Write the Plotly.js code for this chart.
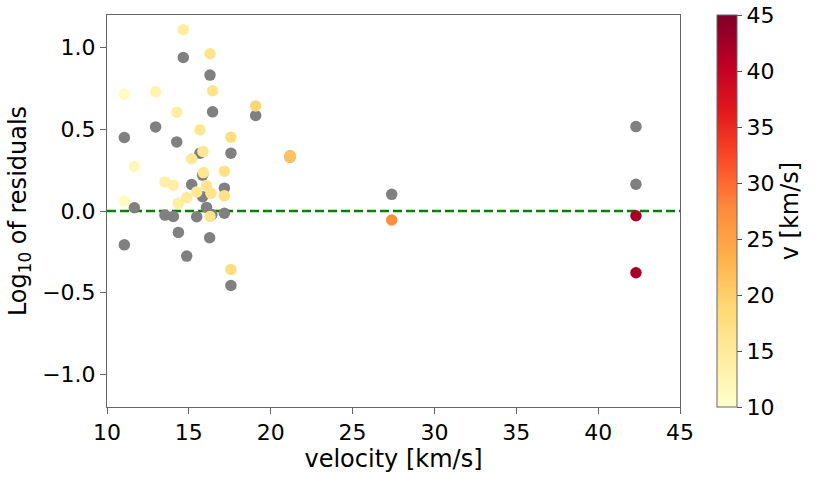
<!DOCTYPE html>
<html>
<head>
<meta charset="utf-8">
<script src="https://cdn.plot.ly/plotly-3.0.1.min.js"></script>
<style>html,body{margin:0;padding:0;background:#fff;}#chart{width:831px;height:477px;}</style>
</head>
<body>
<div id="chart"></div>
<script>
// Grey points (reference model residuals)
var greyVelocity = [11.06, 11.06, 11.67, 12.97, 13.54, 14.05, 14.26, 14.36, 14.66, 14.87,
                    15.17, 15.48, 15.68, 15.84, 15.84, 16.08, 16.27, 16.29, 16.40, 16.45,
                    17.17, 17.17, 17.57, 17.57, 19.08, 21.18, 27.39, 42.31, 42.31];
var greyResidual = [0.450, -0.207, 0.020, 0.515, -0.025, -0.033, 0.423, -0.131, 0.940, -0.276,
                    0.162, -0.035, 0.354, 0.220, 0.088, 0.022, -0.164, 0.832, -0.022, 0.607,
                    0.140, -0.014, 0.354, -0.456, 0.585, 0.330, 0.102, 0.517, 0.164];

// Coloured points (colour = velocity)
var colVelocity = [11.06, 11.06, 11.67, 12.97, 13.54, 14.05, 14.26, 14.36, 14.66, 14.87,
                   15.17, 15.48, 15.68, 15.86, 15.89, 16.08, 16.29, 16.29, 16.35, 16.45,
                   17.17, 17.17, 17.57, 17.57, 19.08, 21.18, 21.18, 27.39, 42.31, 42.31];
var colResidual = [0.716, 0.061, 0.272, 0.730, 0.178, 0.158, 0.605, 0.047, 1.110, 0.082,
                   0.320, 0.117, 0.497, 0.364, 0.235, 0.155, 0.963, -0.033, 0.108, 0.736,
                   0.244, 0.094, 0.452, -0.358, 0.643, 0.340, 0.330, -0.055, -0.029, -0.378];

var xTicks = [10, 15, 20, 25, 30, 35, 40, 45];
var yTicks = [-1.0, -0.5, 0.0, 0.5, 1.0];
var cbTicks = [10, 15, 20, 25, 30, 35, 40, 45];

var ylorrd = [
  [0.0, '#ffffcc'], [0.125, '#ffeda0'], [0.25, '#fed976'], [0.375, '#feb24c'],
  [0.5, '#fd8d3c'], [0.625, '#fc4e2a'], [0.75, '#e31a1c'], [0.875, '#bd0026'], [1.0, '#800026']
];

var tickFont = {family: 'DejaVu Sans, sans-serif', size: 22, color: '#000'};
var titleFont = {family: 'DejaVu Sans, sans-serif', size: 24, color: '#000'};

var traces = [
  {
    x: greyVelocity, y: greyResidual, type: 'scatter', mode: 'markers',
    marker: {color: '#808080', size: 11.5, line: {width: 0}},
    hoverinfo: 'skip', showlegend: false
  },
  {
    x: colVelocity, y: colResidual, type: 'scatter', mode: 'markers',
    marker: {
      color: colVelocity, colorscale: ylorrd, cmin: 10, cmax: 45, size: 11.5,
      line: {width: 0}, showscale: true,
      colorbar: {
        x: 1.0646, xanchor: 'left', xpad: 0, y: 0.5, yanchor: 'middle', ypad: 0,
        len: 1, lenmode: 'fraction', thickness: 20, thicknessmode: 'pixels',
        outlinecolor: '#666', outlinewidth: 1,
        tickmode: 'array', tickvals: cbTicks, ticktext: cbTicks.map(String),
        ticks: 'outside', ticklen: 5, tickcolor: '#555', tickfont: tickFont,
        title: {text: 'v [km/s]', side: 'right', font: titleFont}
      }
    },
    hoverinfo: 'skip', showlegend: false
  }
];

var layout = {
  width: 831, height: 477,
  margin: {l: 107, r: 151, t: 15, b: 70, pad: 0},
  paper_bgcolor: '#fff', plot_bgcolor: '#fff',
  font: tickFont,
  xaxis: {
    range: [10, 45], tickmode: 'array', tickvals: xTicks, ticktext: xTicks.map(String),
    showgrid: false, zeroline: false, showline: true, mirror: true,
    linecolor: '#666', linewidth: 1, ticks: 'outside', ticklen: 6, tickcolor: '#666',
    tickfont: tickFont, title: {text: 'velocity [km/s]', font: titleFont, standoff: 2}
  },
  yaxis: {
    range: [-1.2, 1.2], tickmode: 'array', tickvals: yTicks,
    ticktext: yTicks.map(function(v){ return (v < 0 ? '\u2212' : '') + Math.abs(v).toFixed(1); }),
    showgrid: false, zeroline: false, showline: true, mirror: true,
    linecolor: '#666', linewidth: 1, ticks: 'outside', ticklen: 6, tickcolor: '#666',
    tickfont: tickFont, title: {text: 'Log<sub>10</sub> of residuals', font: titleFont, standoff: 8}
  },
  shapes: [{
    type: 'line', xref: 'paper', x0: 0, x1: 1, yref: 'y', y0: 0, y1: 0,
    line: {color: '#008000', width: 2.5, dash: '9px,4px'}, layer: 'below'
  }]
};

Plotly.newPlot('chart', traces, layout, {staticPlot: true, displayModeBar: false});
</script>
</body>
</html>
